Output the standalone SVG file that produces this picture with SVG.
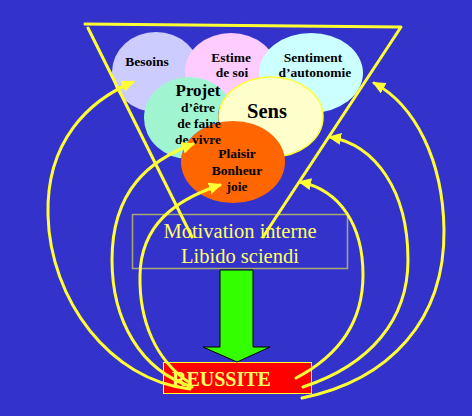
<svg xmlns="http://www.w3.org/2000/svg" width="472" height="416" viewBox="0 0 472 416">
<style>
.lbl{font-family:"Liberation Serif","Times New Roman",serif;font-weight:bold;fill:#000;text-anchor:middle;font-size:13.5px}
.ylw{font-family:"Liberation Serif","Times New Roman",serif;fill:#FFFF66;text-anchor:middle;font-size:20.5px}
.curve{fill:none;stroke:#FFFF33;stroke-width:3;stroke-linecap:round;marker-end:url(#ah)}
.tri{fill:none;stroke:#FFFF33;stroke-width:3;stroke-linecap:round;stroke-linejoin:round}
</style>
<defs>
<marker id="ah" markerUnits="userSpaceOnUse" markerWidth="14" markerHeight="12" refX="11" refY="6" orient="auto">
<path d="M0,0 L13,6 L0,12 z" fill="#FFFF33"/>
</marker>
<mask id="projMask" maskUnits="userSpaceOnUse" x="0" y="0" width="472" height="416">
<rect x="0" y="0" width="472" height="416" fill="#fff"/>
<ellipse cx="271" cy="117" rx="53" ry="41" fill="#000"/>
<ellipse cx="233" cy="162" rx="52" ry="41" fill="#000"/>
</mask>
</defs>
<rect x="0" y="0" width="472" height="416" fill="#3333CC"/>
<g id="besoins">
<ellipse cx="156" cy="72" rx="44" ry="40" fill="#CCCCFF"/>
<text class="lbl" x="147" y="66">Besoins</text>
</g>
<g id="estime">
<ellipse cx="231" cy="71" rx="46" ry="38" fill="#FFCCFF"/>
<text class="lbl" x="231" y="62">Estime</text>
<text class="lbl" x="232" y="77">de soi</text>
</g>
<g id="sentiment">
<ellipse cx="311" cy="73" rx="52" ry="40" fill="#CCFFFF"/>
<text class="lbl" x="313" y="62">Sentiment</text>
<text class="lbl" x="315" y="77">d’autonomie</text>
</g>
<g id="sens">
<ellipse cx="271" cy="117" rx="52" ry="40" fill="#FFFFCC" stroke="#FFFF33" stroke-width="1.5"/>
<text class="lbl" x="267" y="118" style="font-size:20.5px">Sens</text>
</g>
<g id="plaisir">
<ellipse cx="233" cy="162" rx="52" ry="41" fill="#FF6600"/>
<text class="lbl" x="237" y="158">Plaisir</text>
<text class="lbl" x="237" y="175">Bonheur</text>
<text class="lbl" x="237" y="191">joie</text>
</g>
<g id="projet">
<ellipse cx="189" cy="118" rx="45" ry="41" fill="#A0F5D0" mask="url(#projMask)"/>
<text class="lbl" x="198" y="96" style="font-size:17px">Projet</text>
<text class="lbl" x="198" y="112">d’être</text>
<text class="lbl" x="199" y="128">de faire</text>
<text class="lbl" x="198" y="144">de vivre</text>
</g>
<g id="motivation">
<rect x="132.5" y="214.5" width="215" height="54" fill="none" stroke="#A8A870" stroke-width="1.5"/>
<text class="ylw" x="240" y="238">Motivation interne</text>
<text class="ylw" x="240" y="263">Libido sciendi</text>
</g>
<g id="reussite">
<rect x="163.5" y="362.5" width="148" height="31" fill="#FF0000" stroke="#FFFF33" stroke-width="1"/>
<text x="172" y="386" style="font-family:'Liberation Serif','Times New Roman',serif;font-weight:bold;font-size:20px;fill:#FFFF66">REUSSITE</text>
</g>
<g id="triangle">
<path class="tri" d="M85,24 L401,27 L263,237"/>
<path class="tri" d="M88,28 L192,237"/>
</g>
<g id="connectors">
<polygon points="220,270 253,270 253,347 270,347 237,362 203,347 220,347" fill="#33FF00" stroke="#000" stroke-width="1"/>
<path class="curve" d="M190,389 C110,380 50,300 48,215 C46,140 90,100 133,82"/>
<path class="curve" d="M192,387 C140,370 112,320 112,260 C112,190 150,160 193,144"/>
<path class="curve" d="M190,383 C155,360 139,320 140,275 C141,225 175,200 220,185"/>
<path class="curve" d="M296,378 C340,355 363,320 363,275 C363,225 340,190 300,182"/>
<path class="curve" d="M303,387 C370,365 408,320 408,260 C408,190 375,145 330,137"/>
<path class="curve" d="M302,398 C390,380 445,320 444,230 C443,160 415,105 374,83"/>
</g>
</svg>
